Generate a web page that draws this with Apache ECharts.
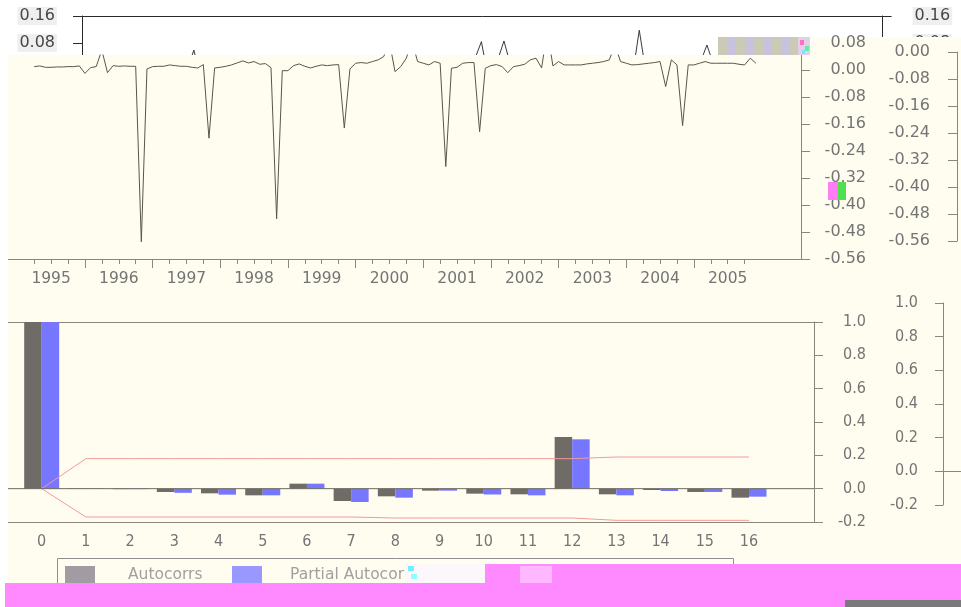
<!DOCTYPE html>
<html>
<head>
<meta charset="utf-8">
<script src="https://cdn.jsdelivr.net/npm/echarts@6/dist/echarts.min.js"></script>
<style>
  html, body { margin: 0; padding: 0; background: #ffffff; }
  #chart { width: 961px; height: 607px; }
</style>
</head>
<body>
<div id="chart"></div>
<script>
// ---- data ----------------------------------------------------------------
// Monthly series, first value is April 1995 (month index 3 counted from Jan 1995)
const startYear = 1995;
const firstMonth = 3;
const monthlyValues = [
  /* 1995 */ 0.010, 0.012, 0.008, 0.008, 0.009, 0.009, 0.010, 0.010, 0.012,
  /* 1996 */ -0.010, 0.007, 0.010, 0.059, -0.008, 0.013, 0.011, 0.012, 0.011, 0.011, -0.509, 0.003,
  /* 1997 */ 0.010, 0.011, 0.011, 0.015, 0.013, 0.011, 0.011, 0.008, 0.006, 0.016, -0.202, 0.006,
  /* 1998 */ 0.008, 0.011, 0.015, 0.021, 0.027, 0.021, 0.025, 0.017, 0.019, 0.007, -0.441, -0.002,
  /* 1999 */ -0.002, 0.013, 0.018, 0.011, 0.006, 0.011, 0.015, 0.013, 0.015, 0.016, -0.172, 0.003,
  /* 2000 */ 0.020, 0.022, 0.020, 0.025, 0.030, 0.040, 0.084, -0.005, 0.010, 0.035, 0.086, 0.025,
  /* 2001 */ 0.020, 0.015, 0.025, 0.020, -0.286, 0.005, 0.008, 0.020, 0.022, 0.022, -0.183, 0.005,
  /* 2002 */ 0.013, 0.016, 0.010, -0.008, 0.010, 0.013, 0.017, 0.030, 0.035, 0.006, 0.118, 0.012,
  /* 2003 */ 0.025, 0.015, 0.015, 0.015, 0.015, 0.018, 0.020, 0.022, 0.025, 0.030, 0.074, 0.025,
  /* 2004 */ 0.020, 0.015, 0.016, 0.018, 0.020, 0.022, 0.025, -0.049, 0.030, 0.015, -0.165, 0.015,
  /* 2005 */ 0.015, 0.020, 0.025, 0.020, 0.020, 0.020, 0.020, 0.020, 0.017, 0.015, 0.035, 0.020
];
// month axis runs from Nov 1994 to Aug 2006 (index relative to Jan 1995)
const axisFirstMonth = -2;
const axisLastMonth = 139;
const lastTickMonth = 129;

// correlogram
const lags = ['0','1','2','3','4','5','6','7','8','9','10','11','12','13','14','15','16'];
const autocorrs =        [1.0, 0.002, -0.003, -0.020, -0.028, -0.040, 0.030, -0.074, -0.046, -0.012, -0.030, -0.034, 0.310, -0.034, -0.008, -0.020, -0.054];
const partialAutocorrs = [1.0, 0.002, -0.003, -0.025, -0.036, -0.040, 0.030, -0.080, -0.054, -0.012, -0.035, -0.040, 0.296, -0.040, -0.014, -0.020, -0.048];
const upperBand = [0, 0.180, 0.180, 0.180, 0.180, 0.180, 0.180, 0.180, 0.180, 0.180, 0.180, 0.180, 0.180, 0.190, 0.190, 0.190, 0.190];
const lowerBand = [0, -0.170, -0.170, -0.170, -0.170, -0.170, -0.170, -0.170, -0.176, -0.176, -0.176, -0.176, -0.176, -0.190, -0.190, -0.190, -0.190];

// ---- derived ---------------------------------------------------------------
const months = [];
for (let m = axisFirstMonth; m <= axisLastMonth; m++) months.push(String(m));
const seriesData = months.map(s => {
  const m = +s;
  const i = m - firstMonth;
  return (i >= 0 && i < monthlyValues.length) ? monthlyValues[i] : null;
});
const mod12 = m => ((m % 12) + 12) % 12;

// ---- styles ----------------------------------------------------------------
const cream = '#fffdf0';
const axisColor = '#8b857b';
const zeroColor = '#6f6a61';
const lineColor = '#5a554c';
const textColor = '#747474';
const font = "'DejaVu Sans', Verdana, sans-serif";
const fontNarrow = "'DejaVu Sans Condensed', 'Liberation Sans Narrow', 'DejaVu Sans', sans-serif";
const pink = '#ff8aff';

const fmt2 = v => (Math.abs(v) < 1e-9 ? 0 : v).toFixed(2);
const fmt1 = v => (Math.abs(v) < 1e-9 ? 0 : v).toFixed(1);

const hidden = { show: false };

const chart = echarts.init(document.getElementById('chart'), null, { renderer: 'canvas' });

const option = {
  animation: false,
  backgroundColor: '#ffffff',
  grid: [
    { left: 6,    right: 160,   top: 55,  bottom: 348 },  // 0 seasonal series
    { left: 6,    right: 160,   top: 43,  bottom: 348 },  // 1 value axis of series
    { left: 98,   right: 68,    top: 16,  bottom: 552 },  // 2 upper strip of series
    { left: 82,   right: 68,    top: 16,  bottom: 348 },  // 3 outer frame
    { left: 957,  right: 0,     top: 52,  bottom: 366 },  // 4 secondary series axis
    { left: 943,  right: 0,     top: 303, bottom: 102 },  // 5 secondary correlogram axis
    { left: 19.6, right: 189.9, top: 322, bottom: 85 },   // 6 correlogram bars
    { left: 8,    right: 147,   top: 322, bottom: 85 }    // 7 correlogram frame
  ],
  xAxis: [
    { // 0 quarterly ticks
      type: 'category', gridIndex: 0, position: 'bottom', data: months, boundaryGap: false, zlevel: 2,
      axisLine: { onZero: false, lineStyle: { color: axisColor, width: 1 } },
      axisTick: { length: 5, lineStyle: { color: axisColor },
        interval: (i, v) => { const m = +v; return m >= firstMonth && m <= lastTickMonth && mod12(m) % 3 === 0; } },
      axisLabel: hidden, splitLine: hidden
    },
    { // 1 yearly ticks and labels
      type: 'category', gridIndex: 0, position: 'bottom', data: months, boundaryGap: false, zlevel: 2,
      axisLine: { show: false, onZero: false },
      axisTick: { length: 9, lineStyle: { color: axisColor },
        interval: (i, v) => { const m = +v; return m >= firstMonth && m <= lastTickMonth && mod12(m) === 0; } },
      axisLabel: { margin: 12, color: textColor, fontFamily: font, fontSize: 15.5,
        interval: (i, v) => { const m = +v; return m >= 0 && m <= 126 && mod12(m) === 6; },
        formatter: v => String(startYear + Math.floor(+v / 12)) },
      splitLine: hidden
    },
    { type: 'value', gridIndex: 1, min: 0, max: 1, show: false },
    { type: 'category', gridIndex: 2, data: months, boundaryGap: false, show: false, zlevel: 0 },
    { // 4 frame top edge
      type: 'value', gridIndex: 3, min: 0, max: 1, position: 'top', zlevel: 0,
      axisLine: { onZero: false, lineStyle: { color: '#2a2a2a', width: 1 } },
      axisTick: hidden, axisLabel: hidden, splitLine: hidden
    },
    { type: 'value', gridIndex: 4, min: 0, max: 1, show: false },
    { // 6 zero line of secondary correlogram axis
      type: 'value', gridIndex: 5, min: 0, max: 1, position: 'bottom', zlevel: 2,
      axisLine: { onZero: true, lineStyle: { color: axisColor, width: 1 } },
      axisTick: hidden, axisLabel: hidden, splitLine: hidden
    },
    { // 7 lags
      type: 'category', gridIndex: 6, position: 'bottom', data: lags, boundaryGap: true, zlevel: 2,
      axisLine: { show: false, onZero: false },
      axisTick: { alignWithLabel: true, length: 8, lineStyle: { color: axisColor } },
      axisLabel: { margin: 12, color: textColor, fontFamily: fontNarrow, fontSize: 16 },
      splitLine: hidden
    },
    { // 8 correlogram bottom edge
      type: 'value', gridIndex: 7, min: 0, max: 1, position: 'bottom', zlevel: 2,
      axisLine: { onZero: false, lineStyle: { color: axisColor, width: 1 } },
      axisTick: hidden, axisLabel: hidden, splitLine: hidden
    },
    { // 9 correlogram top edge
      type: 'value', gridIndex: 7, min: 0, max: 1, position: 'top', zlevel: 2,
      axisLine: { onZero: false, lineStyle: { color: axisColor, width: 1 } },
      axisTick: hidden, axisLabel: hidden, splitLine: hidden
    }
  ],
  yAxis: [
    { type: 'value', gridIndex: 0, min: -0.56, max: 0.044444, show: false },
    { // 1 series value axis
      type: 'value', gridIndex: 1, position: 'right', min: -0.56, max: 0.08, interval: 0.08, zlevel: 2,
      axisLine: { show: true, onZero: false, lineStyle: { color: axisColor } },
      axisTick: { show: true, length: 9, lineStyle: { color: axisColor } },
      axisLabel: { margin: 65, align: 'right', color: textColor, fontFamily: font, fontSize: 16, formatter: fmt2 },
      splitLine: hidden
    },
    { type: 'value', gridIndex: 2, min: 0.044444, max: 0.16, show: false },
    { // 3 frame left
      type: 'value', gridIndex: 3, position: 'left', min: -0.56, max: 0.16, interval: 0.08, zlevel: 0,
      axisLine: { show: true, onZero: false, lineStyle: { color: '#2a2a2a' } },
      axisTick: { show: true, length: 9, lineStyle: { color: '#2a2a2a' } },
      axisLabel: { margin: 25, color: '#474747', fontFamily: font, fontSize: 16, formatter: fmt2,
        backgroundColor: '#efefef', padding: [1, 2] },
      splitLine: hidden
    },
    { // 4 frame right
      type: 'value', gridIndex: 3, position: 'right', min: -0.56, max: 0.16, interval: 0.08, zlevel: 0,
      axisLine: { show: true, onZero: false, lineStyle: { color: '#2a2a2a' } },
      axisTick: { show: true, length: 9, lineStyle: { color: '#2a2a2a' } },
      axisLabel: { margin: 30, color: '#474747', fontFamily: font, fontSize: 16, formatter: fmt2,
        backgroundColor: '#efefef', padding: [1, 2] },
      splitLine: hidden
    },
    { // 5 secondary series axis
      type: 'value', gridIndex: 4, position: 'left', min: -0.56, max: 0, interval: 0.08, zlevel: 2,
      axisLine: { show: true, onZero: false, lineStyle: { color: axisColor } },
      axisTick: { show: true, length: 9, lineStyle: { color: axisColor } },
      axisLabel: { margin: 27, color: textColor, fontFamily: font, fontSize: 16, formatter: fmt2 },
      splitLine: hidden
    },
    { // 6 secondary correlogram axis
      type: 'value', gridIndex: 5, position: 'left', min: -0.2, max: 1.0, interval: 0.2, zlevel: 2,
      axisLine: { show: true, onZero: false, lineStyle: { color: axisColor } },
      axisTick: { show: true, length: 8, lineStyle: { color: axisColor } },
      axisLabel: { margin: 25, color: textColor, fontFamily: fontNarrow, fontSize: 16, formatter: fmt1 },
      splitLine: hidden
    },
    { type: 'value', gridIndex: 6, min: -0.2, max: 1.0, show: false },
    { // 8 correlogram value axis
      type: 'value', gridIndex: 7, position: 'right', min: -0.2, max: 1.0, interval: 0.2, zlevel: 2,
      axisLine: { show: true, onZero: false, lineStyle: { color: axisColor } },
      axisTick: { show: true, length: 9, lineStyle: { color: axisColor } },
      axisLabel: { margin: 52, align: 'right', color: textColor, fontFamily: fontNarrow, fontSize: 16, formatter: fmt1 },
      splitLine: hidden
    }
  ],
  legend: [
    {
      zlevel: 2, left: 65, top: 566, padding: 0, itemWidth: 30, itemHeight: 18, icon: 'rect',
      selectedMode: false,
      data: [{ name: 'Autocorrs', itemStyle: { color: '#a29ba2' } }],
      textStyle: { color: '#a0a0a0', fontFamily: font, fontSize: 15.5, padding: [0, 0, 0, 28] }
    },
    {
      zlevel: 2, left: 232, top: 566, padding: 0, itemWidth: 30, itemHeight: 18, icon: 'rect',
      selectedMode: false,
      data: [{ name: 'Partial Autocorrs', itemStyle: { color: '#9898ff' } }],
      textStyle: { color: '#a0a0a0', fontFamily: font, fontSize: 15.5, padding: [0, 0, 0, 23] }
    }
  ],
  series: [
    {
      name: 'Series', type: 'line', xAxisIndex: 0, yAxisIndex: 0, zlevel: 2,
      data: seriesData, symbol: 'none', connectNulls: false,
      lineStyle: { color: lineColor, width: 1 },
      markLine: { silent: true, symbol: ['none', 'none'], label: { show: false },
        lineStyle: { color: zeroColor, width: 1, type: 'solid' }, data: [{ yAxis: 0 }] }
    },
    {
      name: 'Series strip', type: 'line', xAxisIndex: 3, yAxisIndex: 2, zlevel: 0,
      data: seriesData, symbol: 'none', connectNulls: false,
      lineStyle: { color: '#3a3a3a', width: 1 }
    },
    {
      name: 'Autocorrs', type: 'bar', xAxisIndex: 7, yAxisIndex: 7, zlevel: 2,
      data: autocorrs, barWidth: 17.5, barGap: '0%', itemStyle: { color: '#6f6b66' }
    },
    {
      name: 'Partial Autocorrs', type: 'bar', xAxisIndex: 7, yAxisIndex: 7, zlevel: 2,
      data: partialAutocorrs, barWidth: 17.5, barGap: '0%', itemStyle: { color: '#7676ff' }
    },
    {
      name: 'Upper bound', type: 'line', xAxisIndex: 7, yAxisIndex: 7, zlevel: 2,
      data: upperBand, symbol: 'none', lineStyle: { color: '#f29a9a', width: 1 }
    },
    {
      name: 'Lower bound', type: 'line', xAxisIndex: 7, yAxisIndex: 7, zlevel: 2,
      data: lowerBand, symbol: 'none', lineStyle: { color: '#f29a9a', width: 1 }
    },
    {
      name: 'Zero', type: 'line', xAxisIndex: 8, yAxisIndex: 8, zlevel: 2,
      data: [[0, 0], [1, 0]], symbol: 'none', lineStyle: { color: zeroColor, width: 1 }
    }
  ],
  graphic: [
    // panel background
    { type: 'rect', zlevel: 1, shape: { x: 8, y: 55, width: 953, height: 528 }, style: { fill: cream } },
    { type: 'rect', zlevel: 1, shape: { x: 810, y: 37, width: 151, height: 18 }, style: { fill: cream } },
    // legend frame
    { type: 'rect', zlevel: 2, shape: { x: 57.5, y: 558.5, width: 676, height: 40 },
      style: { fill: 'none', stroke: '#8f8f8f', lineWidth: 1 } },
    // banded strip at top right
    { type: 'rect', zlevel: 3, shape: { x: 718, y: 37, width: 92, height: 18 }, style: { fill: '#cbcab6' } },
    { type: 'rect', zlevel: 3, shape: { x: 727, y: 37, width: 9, height: 18 }, style: { fill: '#c7c3df' } },
    { type: 'rect', zlevel: 3, shape: { x: 745, y: 37, width: 9, height: 18 }, style: { fill: '#c7c3df' } },
    { type: 'rect', zlevel: 3, shape: { x: 763, y: 37, width: 9, height: 18 }, style: { fill: '#c7c3df' } },
    { type: 'rect', zlevel: 3, shape: { x: 781, y: 37, width: 9, height: 18 }, style: { fill: '#c7c3df' } },
    { type: 'rect', zlevel: 3, shape: { x: 798, y: 37, width: 12, height: 18 }, style: { fill: '#e0d0e8' } },
    { type: 'rect', zlevel: 3, shape: { x: 800, y: 40, width: 4, height: 5 }, style: { fill: '#ff70c0' } },
    { type: 'rect', zlevel: 3, shape: { x: 805, y: 46, width: 4, height: 5 }, style: { fill: '#60f0a0' } },
    { type: 'rect', zlevel: 3, shape: { x: 802, y: 50, width: 3, height: 4 }, style: { fill: '#80e0ff' } },
    // small colour block by the value axis
    { type: 'rect', zlevel: 3, shape: { x: 828, y: 182, width: 10, height: 18 }, style: { fill: '#ff7cf4' } },
    { type: 'rect', zlevel: 3, shape: { x: 838, y: 182, width: 8, height: 18 }, style: { fill: '#4ee04e' } },
    // left margin
    { type: 'rect', zlevel: 3, shape: { x: 0, y: 0, width: 8, height: 583 }, style: { fill: '#ffffff' } },
    // footer bands
    { type: 'rect', zlevel: 3, shape: { x: 405, y: 564, width: 80, height: 19 }, style: { fill: '#fbf7fb' } },
    { type: 'rect', zlevel: 3, shape: { x: 408, y: 566, width: 6, height: 5 }, style: { fill: '#70f0ff' } },
    { type: 'rect', zlevel: 3, shape: { x: 411, y: 574, width: 6, height: 5 }, style: { fill: '#90ffff' } },
    { type: 'rect', zlevel: 3, shape: { x: 485, y: 564, width: 476, height: 19 }, style: { fill: pink } },
    { type: 'rect', zlevel: 3, shape: { x: 520, y: 566, width: 32, height: 17 }, style: { fill: '#ffb8ff' } },
    { type: 'rect', zlevel: 3, shape: { x: 5, y: 583, width: 956, height: 24 }, style: { fill: pink } },
    { type: 'rect', zlevel: 3, shape: { x: 845, y: 600, width: 116, height: 7 }, style: { fill: '#7a7a7a' } }
  ]
};

chart.setOption(option);
</script>
</body>
</html>
